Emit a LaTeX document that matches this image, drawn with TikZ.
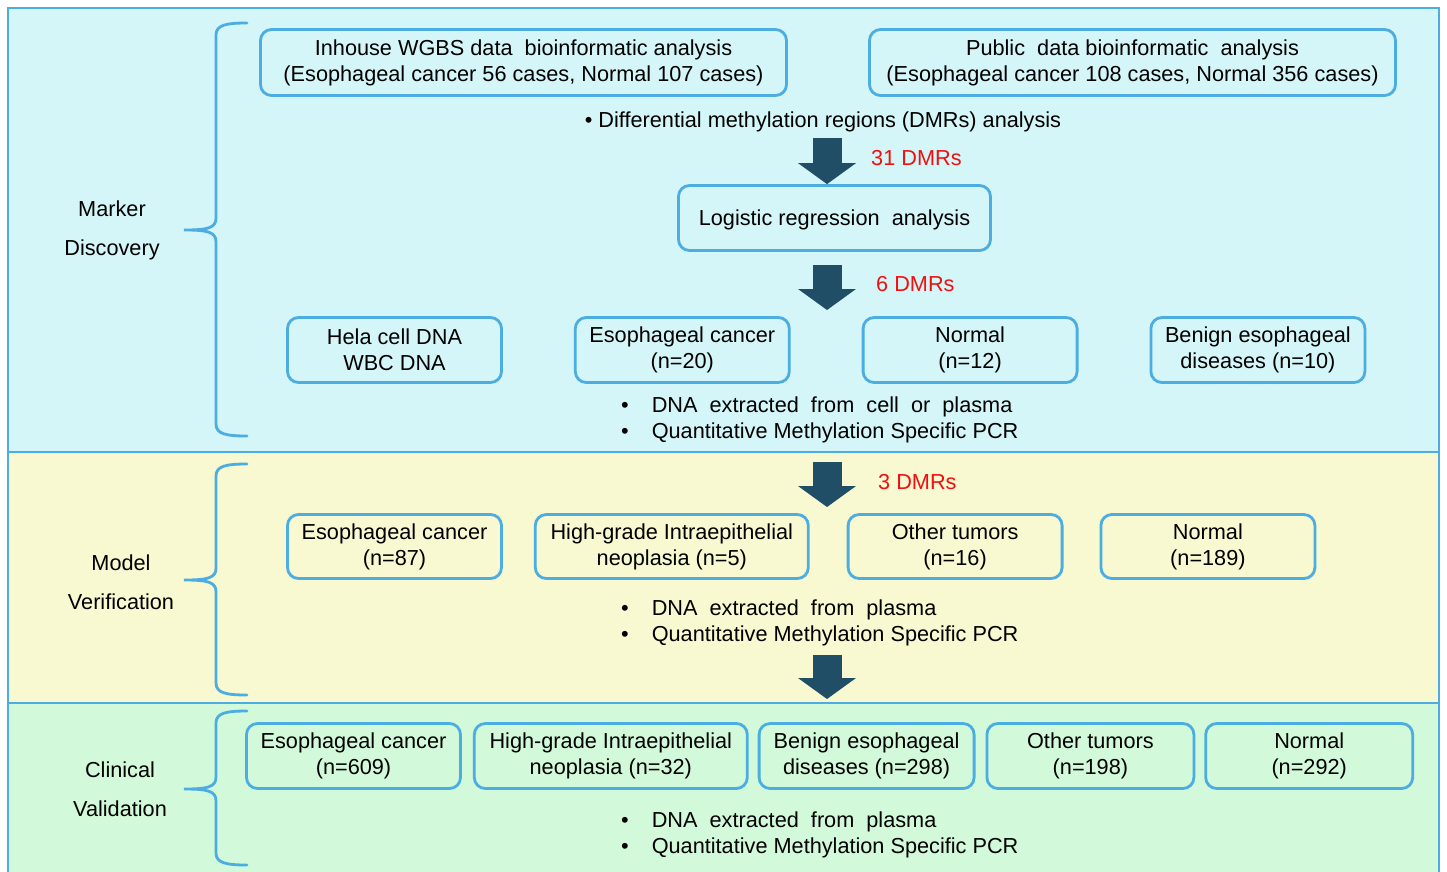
\documentclass[tikz,border=0pt]{standalone}
\usepackage{fontspec}
\setmainfont{Liberation Sans}
\usetikzlibrary{arrows.meta,positioning}
\definecolor{FlowLine}{HTML}{4BADE1}
\definecolor{FlowCyan}{HTML}{D4F6F8}
\definecolor{FlowYellow}{HTML}{F8F8D1}
\definecolor{FlowGreen}{HTML}{D2FADA}
\definecolor{FlowTeal}{HTML}{1F4E66}
\definecolor{FlowRed}{HTML}{F01010}

\begin{document}
\begin{tikzpicture}[
    x=1pt, y=-1pt,
    font=\fontsize{21.7}{26}\selectfont,
    panel/.style={
        draw=FlowLine,
        line width=2.8pt
    },
    stage/.style={
        draw=FlowLine,
        line width=2.8pt,
        rounded corners=11pt,
        align=center,
        minimum width=214pt,
        minimum height=65pt,
        inner sep=0pt,
        execute at begin node={\rule{0pt}{20pt}}
    },
    bracket/.style={
        draw=FlowLine,
        line width=2.8pt,
        line cap=round
    },
    flow/.style={
        draw=FlowTeal,
        line width=29pt,
        -{Triangle[length=21pt,width=58pt,line width=0pt]}
    },
    count/.style={
        text=FlowRed,
        anchor=west,
        inner sep=0pt
    },
    phase/.style={
        align=center
    },
    bullets/.style={
        align=left,
        anchor=west,
        inner sep=0pt
    }
]
    \useasboundingbox (0,0) rectangle (1447,871);

    % three stages
    \draw[panel, fill=FlowCyan] (8,8) rectangle (1439,452);
    \draw[panel, fill=FlowYellow] (8,452) rectangle (1439,703);
    \draw[panel, fill=FlowGreen] (8,703) rectangle (1439,900);

    \foreach \ta/\tm/\tb in {23/230/436, 464/580/695, 711/789/865} {
        \draw[bracket]
            (247,\ta) .. controls (226,\ta) and (216,{\ta+2}) .. (216,{\ta+12})
            -- (216,{\tm-12}) .. controls (216,{\tm-2}) and (208,\tm) .. (184,\tm)
            .. controls (208,\tm) and (216,{\tm+2}) .. (216,{\tm+12})
            -- (216,{\tb-12}) .. controls (216,{\tb-2}) and (226,\tb) .. (247,\tb);
    }

    \node[phase] (discovery) at (112,230.5) {Marker\\[13pt]Discovery};
    \node[phase] (verification) at (121,582) {Model\\[13pt]Verification};
    \node[phase] (validation) at (120,789) {Clinical\\[13pt]Validation};

    % marker discovery
    \node[stage, minimum width=526pt, minimum height=66pt] (inhouse) at (523.5,62.5)
        {Inhouse WGBS data\ \ bioinformatic analysis\\(Esophageal cancer 56 cases, Normal 107 cases)};
    \node[stage, minimum width=526pt, minimum height=66pt] (public) at (1132.5,62.5)
        {Public\ \ data bioinformatic\ \ analysis\\(Esophageal cancer 108 cases, Normal 356 cases)};
    \node (dmr) at (823,122) {\textbullet{} Differential methylation regions (DMRs) analysis};

    \node[stage, minimum width=312pt] (logit) at (834.5,218) {Logistic regression\ \ analysis};

    \node[stage] (hela) at (394.5,350) {Hela cell DNA\\WBC DNA};
    \node[stage, right=71pt of hela] (escaA) {Esophageal cancer\\(n=20)};
    \node[stage, right=71pt of escaA] (normA) {Normal\\(n=12)};
    \node[stage, right=71pt of normA] (benignA) {Benign esophageal\\diseases (n=10)};

    \node[bullets] (qmspA) at (621,420)
        {\textbullet\hspace{23pt}DNA\ \ extracted\ \ from\ \ cell\ \ or\ \ plasma\\
         \textbullet\hspace{23pt}Quantitative Methylation Specific PCR};

    \coordinate (a1) at (827,138);
    \coordinate (a2) at (827,265);
    \coordinate (a2e) at (827,310);
    \draw[flow] (a1) -- (a1 |- logit.north);
    \draw[flow] (a2) -- (a2e);
    \node[count] (dmr31) at (871,158) {31 DMRs};
    \node[count] (dmr6) at (876,284) {6 DMRs};

    % model verification
    \coordinate (a3) at (827,462);
    \coordinate (a3e) at (827,507);
    \draw[flow] (a3) -- (a3e);
    \node[count] (dmr3) at (878,482) {3 DMRs};

    \node[stage, minimum height=64pt] (escaB) at (394.5,546.5) {Esophageal cancer\\(n=87)};
    \node[stage, minimum height=64pt, minimum width=273pt, right=31pt of escaB] (hginB)
        {High-grade Intraepithelial\\neoplasia (n=5)};
    \node[stage, minimum height=64pt, right=37pt of hginB] (otherB) {Other tumors\\(n=16)};
    \node[stage, minimum height=64pt, right=36pt of otherB] (normB) {Normal\\(n=189)};

    \node[bullets] (qmspB) at (621,623)
        {\textbullet\hspace{23pt}DNA\ \ extracted\ \ from\ \ plasma\\
         \textbullet\hspace{23pt}Quantitative Methylation Specific PCR};

    \coordinate (a4) at (827,655);
    \coordinate (a4e) at (827,699);
    \draw[flow] (a4) -- (a4e);

    % clinical validation
    \node[stage] (escaC) at (353.5,756) {Esophageal cancer\\(n=609)};
    \node[stage, minimum width=273pt, right=11pt of escaC] (hginC)
        {High-grade Intraepithelial\\neoplasia (n=32)};
    \node[stage, minimum width=215pt, right=9pt of hginC] (benignC)
        {Benign esophageal\\diseases (n=298)};
    \node[stage, minimum width=207pt, right=10pt of benignC] (otherC) {Other tumors\\(n=198)};
    \node[stage, minimum width=207pt, right=9pt of otherC] (normC) {Normal\\(n=292)};

    \node[bullets] (qmspC) at (621,835)
        {\textbullet\hspace{23pt}DNA\ \ extracted\ \ from\ \ plasma\\
         \textbullet\hspace{23pt}Quantitative Methylation Specific PCR};
\end{tikzpicture}
\end{document}
